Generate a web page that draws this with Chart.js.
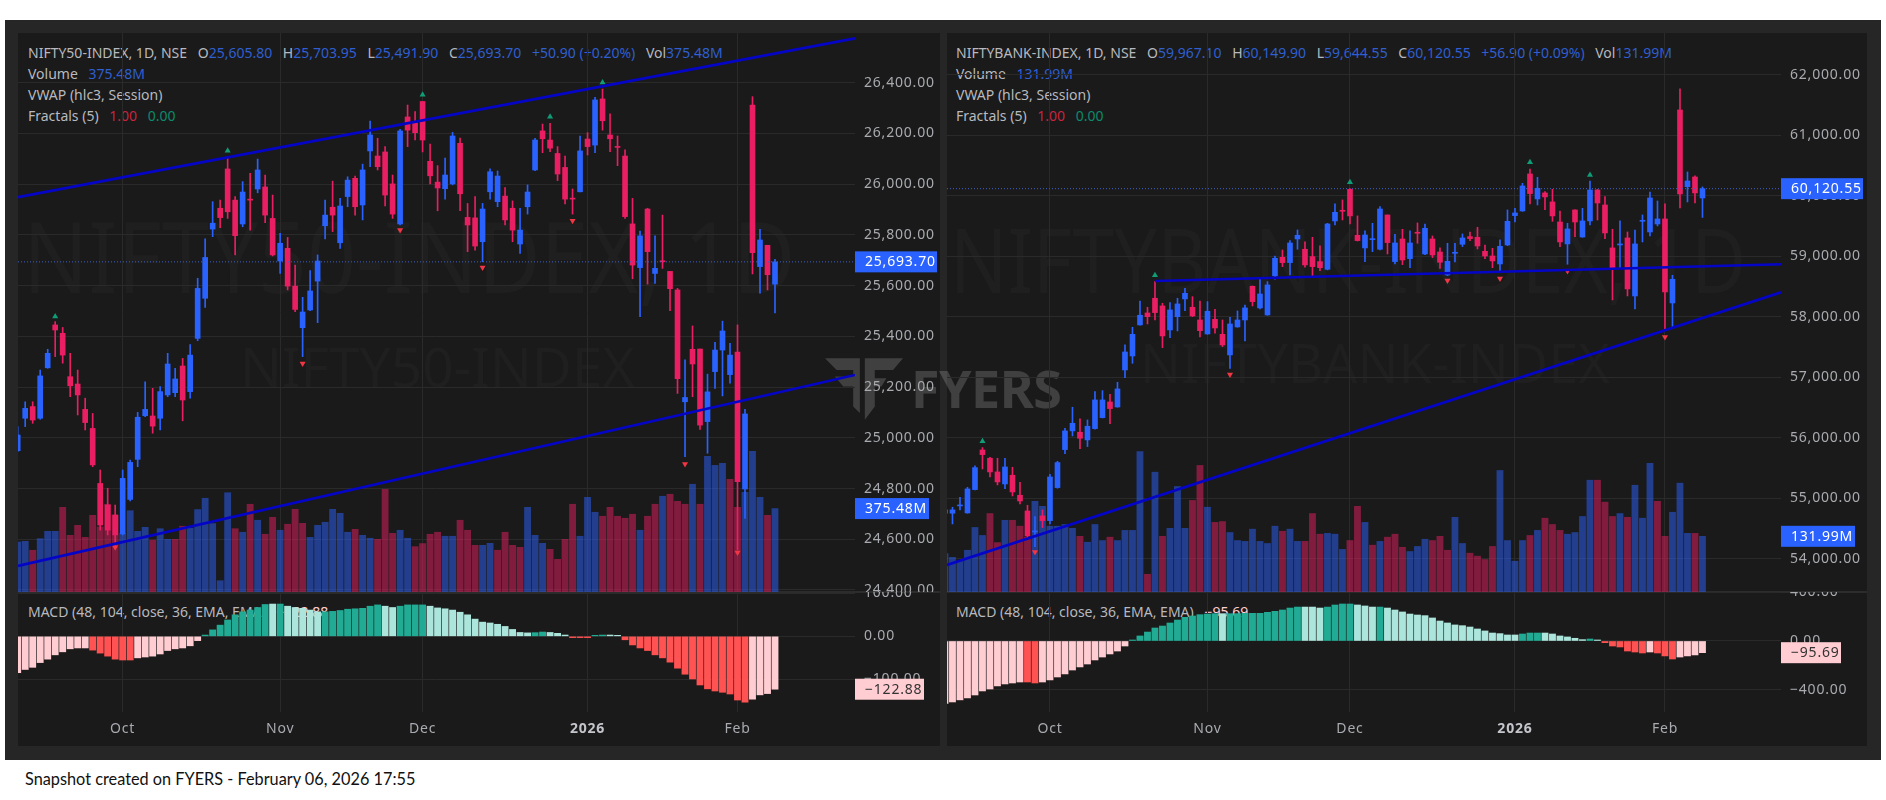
<!doctype html>
<html>
<head>
<meta charset="utf-8">
<script src="https://cdn.jsdelivr.net/npm/chart.js@4/dist/chart.umd.min.js"></script>
<style>
  html, body { margin:0; padding:0; background:#fff; width:1886px; height:800px; overflow:hidden; }
  body { position:relative; font-family:"Noto Sans", sans-serif; }
  #frame { position:absolute; left:5px; top:20px; width:1876px; height:740px; background:#262626; }
  .panel { position:absolute; top:33px; height:713px; background:#1a1a1a; overflow:hidden; }
  .panel .sep { position:absolute; left:0; right:0; top:558px; height:2px; background:#2c2c2c; }
  #panelL { left:18px; width:922px; }
  #panelR { left:947px; width:920px; }
  canvas { position:absolute; }
  .wm { position:absolute; color:#1f1f1f; white-space:nowrap; line-height:1; transform-origin:left top; }
  .legend { position:absolute; color:#b7b9bf; font-size:14px; line-height:21px; white-space:nowrap; }
  .legend b { font-weight:400; color:#2f5fd0; }
  .legend i { font-style:normal; margin-left:7px; }
  .legend .up { color:#0a8a6e; } .legend .dn { color:#c8243f; }
  #logoTxt { position:absolute; left:911px; top:352px; color:rgba(255,255,255,.17); font:700 52px "Noto Sans", sans-serif; letter-spacing:-.5px; }
  #snap { position:absolute; left:25px; top:769px; font:16.3px Lato, sans-serif; color:#111; }
</style>
</head>
<body>
<div id="frame"></div>
<div class="panel" id="panelL">
  <div class="wm" style="left:5px;top:173px;font-size:98px;transform:scaleX(.875);">NIFTY50-INDEX, 1D</div>
  <div class="wm" style="left:222px;top:305px;font-size:55px;">NIFTY50-INDEX</div>
  <div class="sep"></div>
</div>
<div class="panel" id="panelR">
  <div class="wm" style="left:3px;top:180px;font-size:90px;transform:scaleX(.84);">NIFTYBANK-INDEX, 1D</div>
  <div class="wm" style="left:193px;top:302px;font-size:54px;">NIFTYBANK-INDEX</div>
  <div class="sep"></div>
</div>
<svg style="position:absolute;left:825px;top:358px" width="78" height="62" viewBox="0 0 235 185"><path d="M0 0H105V165L85 145V85H55L30 55H85V35H35Z M120 0H235L205 35H150V60H185L170 85H150V145L120 185Z" fill="rgba(255,255,255,.17)"/></svg>
<div id="logoTxt">FYERS</div>

<div class="legend" style="left:28px;top:42px;" id="legL"></div>
<div class="legend" style="left:956px;top:42px;" id="legR"></div>
<div class="legend" style="left:28px;top:601px;" id="macdL"></div>
<div class="legend" style="left:956px;top:601px;" id="macdR"></div>

<canvas id="mainL"></canvas><canvas id="subL"></canvas>
<canvas id="mainR"></canvas><canvas id="subR"></canvas>
<div id="snap">Snapshot created on FYERS - February 06, 2026 17:55</div>

<script>
// ====== datos ======
const monthTicks = [14, 35, 54, 76, 96];
const monthLabels = ['Oct', 'Nov', 'Dec', '2026', 'Feb'];

const leftOpen = [24949,25077,25123,25077,25276,25445,25412,25241,25212,25112,
25037,24820,24735,24696,24621,24757,24915,25087,25086,25077,
25169,25178,25283,25182,25392,25550,25823,25905,26060,25937,
25843,25941,25981,25989,25865,25697,25747,25598,25434,25504,
25618,25836,25909,25769,25951,26023,25918,26131,26111,26127,
26001,25843,26265,26241,26326,26090,26008,25982,26001,26161,
25869,25867,25773,25970,25931,25953,25905,25764,25911,26056,
26210,26174,26121,26066,25945,25970,26178,26154,26336,26194,
26148,26111,25843,25671,25902,25648,25698,25656,25583,25142,
25349,25350,25064,25261,25346,25249,25338,24798,26312,25675,
25759,25605.80];
const leftClose = [25011,25116,25070,25244,25333,25425,25326,25205,25169,25060,
24893,24656,24636,24617,24840,24903,25081,25112,25046,25182,
25291,25232,25149,25326,25589,25711,25846,25868,25891,25797,
25969,25937,26056,25878,25721,25767,25598,25506,25496,25579,
25697,25878,25878,25914,26016,25911,26056,26194,26069,25957,
25882,26210,26213,26203,26174,26033,25985,26036,26190,25962,
25839,25756,25902,26049,26032,25859,25819,25819,25969,26174,
26179,26142,26040,25941,25941,26131,26148,26332,26250,26179,
26145,25872,25681,25796,25734,25668,25694,25588,25233,25159,
25291,25050,25181,25346,25421,25326,24827,25094,25730,25780,
25643,25693.70];
const leftHigh = [25044,25142,25142,25267,25349,25458,25435,25333,25267,25156,
25096,24873,24801,24735,24873,24912,25100,25221,25195,25202,
25333,25274,25313,25368,25629,25784,25931,25937,26108,25951,
26010,26043,26099,26036,25957,25806,25790,25681,25554,25659,
25721,25937,26012,25944,26029,26032,26079,26249,26181,26148,
26036,26216,26312,26286,26326,26158,26073,26103,26204,26182,
25924,25951,25924,26060,26052,25987,25934,25905,25997,26181,
26237,26240,26148,26111,25981,26190,26203,26342,26375,26277,
26190,26135,25944,25815,25905,25796,25878,25656,25589,25307,
25441,25350,25251,25376,25460,25372,25445,25112,26345,25822,
25759,25703.95];
const leftLow = [24945,25044,25057,25073,25274,25320,25294,25162,25090,25031,
24886,24636,24617,24571,24617,24751,24886,25083,25018,25031,
25162,25162,25067,25156,25383,25514,25793,25828,25865,25721,
25832,25819,25966,25848,25717,25648,25583,25497,25320,25501,
25454,25784,25813,25747,25911,25878,25859,26069,26056,25914,
25865,25839,26148,26174,26127,26001,25895,25941,25997,25895,
25734,25740,25694,25941,25911,25839,25773,25727,25882,26053,
26124,26128,26014,25922,25882,25969,26115,26124,26213,26128,
26073,25865,25627,25478,25606,25609,25668,25501,25175,24926,
25162,25033,24939,25195,25165,25215,24558,24682,25646,25570,
25583,25491.90];
const leftVol = [225,228,188,240,273,273,381,255,300,246,
345,293,395,345,263,366,273,291,233,285,
237,237,296,287,371,422,308,51,447,285,
269,395,323,260,336,278,305,372,309,246,
300,314,372,354,269,282,255,242,237,462,
264,278,242,204,218,260,269,251,251,323,
278,210,210,219,188,269,210,201,381,255,
219,192,147,237,395,251,426,359,341,381,
341,332,350,278,341,395,431,440,408,395,
485,395,611,570,579,507,381,449,633,426,
345,375.48];
const leftVolDir = 'bbrbbbrrrr' + 'rrrrbbbbrb' + 'brrbbbbbbr' + 'brbrrbrrrb' + 'bbbbbrbbrr' + 'rbbrrrrbbr' + 'rrbbrrrrbb' + 'brrrrbbbrr' + 'rrrbrrbrrr' + 'brbbbrrbbb' + 'rb';
const leftMacd = [-84.5,-77,-72,-61,-53,-43,-36,-29,-27,-27,
-32,-39,-46,-53,-55,-55,-50,-48,-46,-41,
-33,-29,-27,-22,-10,3,15,26,38,50,
57,61,67,74,75,75,70,67,65,61,
57,57,58,60,63,64,65,70,73,70,
67,70,73,73,73,70,66,64,61,56,
50,40,33,31,28,23,16,9,8,8.5,
10,9,7,3,-3,-3,-3,1.5,3,3,
1.5,-8,-20,-27,-33,-43,-50,-60,-74,-88,
-99,-113,-122,-127,-130,-134,-148,-153,-146,-136,
-133,-122.88];
const leftMacdKind = 'PPPPPPPPPP' + 'RRRRRRPPPP' + 'PPPPPTTTTT' + 'TTTTLTLLLL' + 'LTTTTTTTTL' + 'LTTTTLLLLL' + 'LLLLLLLLLT' + 'TLLLRRRTTL' + 'LRRRRRRRRR' + 'RRRRRRRRPP' + 'PP';
const leftUpIdx = [5, 28, 54, 71, 78];
const leftUpVal = [25478, 26132, 26353, 26266, 26401];
const leftDownIdx = [13, 38, 51, 62, 74, 89, 96];
const leftDownVal = [24568, 25293, 25819, 25671, 25856, 24897, 24548];
const leftTicks = [24400,24600,24800,25000,25200,25400,25600,25800,26000,26200,26400];
const leftMacdTicks = [-100, 0, 100];
const leftTrendA = [[0.04, 25949], [111.67, 26575]];
const leftTrendB = [[0.04, 24495], [111.67, 25248]];

const rightOpen = [54755,54755,54876,54760,55146,55801,55664,55438,55239,55383,
55052,54793,54446,54711,54633,55179,55807,56116,56094,55967,
56154,56336,56595,56512,57124,57355,57868,58066,58309,58182,
57785,58005,58298,58160,57950,57719,57961,57713,57372,57835,
57950,58507,58149,58033,58678,58986,58898,59289,59119,58997,
58915,58788,59587,59763,60110,59350,59141,59278,59119,59686,
58915,59289,58964,59400,59041,59289,59074,58694,59052,59201,
59328,59317,59085,59008,58876,59190,59675,59752,60364,59951,
60050,59901,59570,59207,59769,59322,59587,60099,59851,59141,
59190,59306,58347,59581,59405,59537,59620,58231,61422,60154,
60314,59967.10];
const rightClose = [54810,54810,54887,55157,55509,55724,55438,55273,55520,55107,
54958,54380,54463,54633,55355,55592,56116,56242,55994,56193,
56628,56628,56485,56810,57421,57713,58028,58005,58072,57686,
58116,58215,58391,58017,57774,58094,57818,57537,57884,57950,
58149,58253,58380,58529,58970,58898,59223,59350,58860,58832,
58815,59537,59730,59747,59670,59262,59355,59289,59785,59229,
59223,58942,59223,59383,59466,59025,58904,58920,59069,59306,
59295,59174,59008,58926,59168,59581,59719,60165,60039,60127,
59984,59670,59240,59455,59570,59587,60099,59884,59389,58793,
59207,58463,59207,59598,59967,59620,58413,58623,60033,60248,
60050,60120.55];
const rightHigh = [54854,54854,55019,55184,55537,55840,55680,55664,55664,55515,
55267,54887,54699,54810,55399,55614,56160,56507,56314,56297,
56766,56782,56722,56920,57537,57829,58264,58160,58584,58226,
58237,58309,58474,58336,58264,58253,58127,57950,57994,58099,
58198,58512,58623,58584,59008,59107,59262,59438,59240,59317,
59174,59548,59868,59934,60121,59670,59422,59548,59824,59686,
59366,59449,59422,59554,59537,59339,59141,59218,59218,59372,
59405,59482,59190,59135,59273,59769,59796,60209,60446,60309,
60072,60110,59752,59548,59769,59796,60248,60110,59989,59449,
59587,59405,59438,59686,60066,59917,59868,58689,61769,60397,
60331,60149.90];
const rightLow = [54578,54578,54810,54755,55140,55487,55355,55223,55162,55041,
54909,54341,54204,54518,54578,55168,55741,56033,55824,55857,
56143,56330,56237,56507,56997,57234,57862,57884,57950,57493,
57658,57769,58105,58005,57669,57713,57730,57510,57151,57829,
57603,58182,58132,58028,58623,58832,58694,59119,58821,58667,
58766,58777,59521,59603,59537,59256,58915,59080,59107,59041,
58876,58865,58815,59218,59030,58981,58804,58683,58909,59163,
59262,59124,58964,58815,58749,59179,59570,59747,59868,59851,
59774,59581,59163,58871,59328,59317,59521,59603,59295,58281,
58804,58347,58132,59240,59339,59504,57785,57829,59802,59901,
59884,59644.55];
const rightVol = [91,82,73,99,153,134,186,117,170,170,
156,130,215,203,156,156,160,151,132,118,
160,122,130,122,146,146,333,42,284,132,
151,250,151,217,300,201,165,167,141,122,
120,149,120,115,156,144,149,120,120,186,
137,139,137,101,122,203,165,111,120,130,
137,106,96,108,125,122,132,99,177,115,
92,85,77,108,288,122,73,122,134,146,
175,160,146,137,141,179,265,265,213,179,
186,177,253,175,305,215,132,189,258,139,
139,131.99];
const rightVolDir = 'bbbbbbrrbr' + 'rrbbbbbbrb' + 'bbrbbbbrbr' + 'bbbrrbrrbb' + 'bbbbbrbbrr' + 'rbbbrrbrbr' + 'rrbbbrrrbb' + 'rrrrbbbbrb' + 'rrrbbbbrrr' + 'brbbbrrbbb' + 'rb';
const rightMacd = [-509,-498,-481,-465,-441,-408,-392,-367,-351,-343,
-335,-335,-343,-335,-318,-294,-269,-237,-212,-188,
-155,-131,-106,-82,-41,3,41,73,106,122,
147,171,193,204,215,220,223,223,223,223,
226,226,226,234,242,253,269,277,277,277,
269,277,294,302,302,294,286,277,277,269,
253,237,220,212,207,188,163,147,131,125,
114,98,82,65,60,49,49,57,65,65,
65,57,41,33,22,11,16,8,-14,-41,
-49,-82,-90,-98,-90,-98,-122,-147,-131,-122,
-114,-95.69];
const rightMacdKind = 'PPPPPPPPPP' + 'PRRPPPPPPP' + 'PPPPPTTTTT' + 'TTTTTTTLTT' + 'TTTTTTTTLL' + 'LTTTTLLLTL' + 'LLLLLLLLLL' + 'LLLLLLLTTT' + 'LLLLLLTLRR' + 'RRRRPRRRPP' + 'PP';
const rightUpIdx = [5, 28, 54, 78, 86];
const rightUpVal = [55945, 58689, 60226, 60557, 60347];
const rightDownIdx = [12, 38, 67, 74, 83, 96];
const rightDownVal = [54115, 57047, 58601, 58634, 58760, 57669];
const rightTicks = [54000,55000,56000,57000,58000,59000,60000,61000,62000];
const rightMacdTicks = [-400, 0, 400];
const rightTrendA = [[28, 58595], [111.47, 58871]];
const rightTrendB = [[0.27, 53901], [111.47, 58408]];

// --- colores ---
const BLUE = '#2962ff', RED = '#e91e63', TXT = '#a9abb0', GRID = '#2a2a2a', TREND = '#0505c8';
const VOL_COL = { b:'rgba(41,98,255,.5)', r:'rgba(233,30,99,.5)' };
const MACD_COL = { P:'#ffcdd2', R:'#ff5252', T:'#22ab94', L:'#ace5dc' };
const FONT = { family:'"Noto Sans", sans-serif', size:14 };

const fmt = (v) => v.toLocaleString('en-US', { minimumFractionDigits:2, maximumFractionDigits:2 });

// etiqueta de precio sobre el eje derecho, colocada con la escala
const tagPlugin = {
  id:'tags',
  beforeDraw(chart){ chart.ctx.letterSpacing = '0.8px'; },
  afterDraw(chart, _a, opts){
    const ctx = chart.ctx, area = chart.chartArea;
    (opts.list || []).forEach(t => {
      const y = chart.scales[t.axis].getPixelForValue(t.value);
      ctx.save();
      ctx.fillStyle = t.bg;
      ctx.fillRect(area.right, y - 10.5, t.w, 21);
      ctx.fillStyle = t.fg;
      ctx.font = '14px "Noto Sans", sans-serif';
      ctx.textBaseline = 'middle';
      ctx.fillText(t.text, area.right + 10, y + 0.5);
      ctx.restore();
    });
  }
};

const xScale = (xMin, xMax, withLabels) => ({
  type:'linear', min:xMin, max:xMax, offset:false,
  afterBuildTicks:(s) => { s.ticks = monthTicks.map(v => ({ value:v })); },
  afterFit:(s) => { s.height = withLabels ? 34 : 0; s.paddingLeft = 0; s.paddingRight = 0; },
  grid:{ color:GRID, offset:false, drawTicks:false },
  border:{ display:false },
  ticks: withLabels ? {
    autoSkip:false, maxRotation:0, padding:9,
    color:(c) => monthLabels[c.index] === '2026' ? '#c4c6cb' : TXT,
    font:(c) => ({ ...FONT, weight: monthLabels[c.index] === '2026' ? 'bold' : 'normal' }),
    callback:(v) => monthLabels[monthTicks.indexOf(v)]
  } : { display:false }
});

const yScale = (min, max, ticks, axisW) => ({
  type:'linear', position:'right', min, max,
  afterBuildTicks:(s) => { s.ticks = ticks.map(v => ({ value:v })); },
  afterFit:(s) => { s.width = axisW; s.paddingTop = 0; s.paddingBottom = 0; },
  grid:{ color:GRID, drawTicks:false },
  border:{ display:false },
  ticks:{ color:TXT, font:FONT, padding:9, callback:(v) => fmt(v).replace('-', '\u2212') }
});

function mainChart(id, box, d){
  const el = document.getElementById(id);
  el.style.left = box.left + 'px'; el.style.top = box.top + 'px';
  el.style.width = box.w + 'px'; el.style.height = box.h + 'px';
  el.width = box.w; el.height = box.h;
  const lastVol = d.vol[d.vol.length - 1], lastClose = d.close[d.close.length - 1];
  const idx = d.close.map((_, i) => i);
  const candleCol = idx.map(i => d.close[i] >= d.open[i] ? BLUE : RED);
  new Chart(el, {
    type:'bar',
    data:{ datasets:[
      { type:'line', label:'trend1', data:d.trendA.map(p => ({ x:p[0], y:p[1] })), borderColor:TREND, borderWidth:2.6, pointRadius:0, order:1 },
      { type:'line', label:'trend2', data:d.trendB.map(p => ({ x:p[0], y:p[1] })), borderColor:TREND, borderWidth:2.6, pointRadius:0, order:1 },
      { type:'line', label:'last', data:[{ x:box.xMin, y:lastClose }, { x:box.xMax, y:lastClose }], borderColor:'#3f5fc4', borderWidth:1, borderDash:[1,2], pointRadius:0, order:2 },
      { type:'scatter', label:'up', data:d.upIdx.map((x, i) => ({ x, y:d.upVal[i] })), pointStyle:'triangle', pointRadius:3.5, backgroundColor:'#0f9d77', borderWidth:0, order:3 },
      { type:'scatter', label:'down', data:d.downIdx.map((x, i) => ({ x, y:d.downVal[i] })), pointStyle:'triangle', rotation:180, pointRadius:3.5, backgroundColor:'#f23645', borderWidth:0, order:3 },
      { label:'body', grouped:false, barThickness:5, minBarLength:1, data:idx.map(i => ({ x:i, y:[d.open[i], d.close[i]] })), backgroundColor:candleCol, order:4 },
      { label:'wick', grouped:false, barThickness:1, data:idx.map(i => ({ x:i, y:[d.low[i], d.high[i]] })), backgroundColor:candleCol, order:5 },
      { label:'volume', grouped:false, barThickness:6.2, yAxisID:'yVol', data:idx.map(i => ({ x:i, y:d.vol[i] })), backgroundColor:idx.map(i => VOL_COL[d.volDir[i]]), order:6 }
    ]},
    options:{
      responsive:false, animation:false, events:[],
      layout:{ padding:0, autoPadding:false },
      plugins:{ legend:{ display:false }, tooltip:{ enabled:false },
        tags:{ list:[
          { axis:'y', value:lastClose, text:fmt(lastClose), bg:BLUE, fg:'#fff', w:box.tagW },
          { axis:'yVol', value:lastVol, text:lastVol.toFixed(2) + 'M', bg:BLUE, fg:'#fff', w:box.tagW - 8 }
        ]}
      },
      scales:{
        x:xScale(box.xMin, box.xMax, false),
        y:yScale(box.yMin, box.yMax, d.ticks, box.axisW),
        yVol:{ type:'linear', display:false, min:0, max:box.volMax }
      }
    },
    plugins:[tagPlugin]
  });
}

function macdChart(id, box, d){
  const el = document.getElementById(id);
  el.style.left = box.left + 'px'; el.style.top = box.top + 'px';
  el.style.width = box.w + 'px'; el.style.height = box.h + 'px';
  el.width = box.w; el.height = box.h;
  const last = d.macd[d.macd.length - 1];
  new Chart(el, {
    type:'bar',
    data:{ datasets:[{
      label:'MACD', grouped:false, barThickness:6.2, minBarLength:1,
      data:d.macd.map((v, i) => ({ x:i, y:v })),
      backgroundColor:d.macd.map((_, i) => MACD_COL[d.kind[i]])
    }]},
    options:{
      responsive:false, animation:false, events:[],
      layout:{ padding:0, autoPadding:false },
      plugins:{ legend:{ display:false }, tooltip:{ enabled:false },
        tags:{ list:[{ axis:'y', value:last, text:fmt(last).replace('-', '\u2212'), bg:'#ffcdd2', fg:'#333', w:box.tagW }] }
      },
      scales:{
        x:xScale(box.xMin, box.xMax, true),
        y:yScale(box.yMin, box.yMax, d.ticks, box.axisW)
      }
    },
    plugins:[tagPlugin]
  });
}

mainChart('mainL', { left:18, top:33, w:922, h:559, axisW:85, xMin:0.04, xMax:111.67, yMin:24392, yMax:26596, volMax:2516, tagW:82 },
  { open:leftOpen, close:leftClose, high:leftHigh, low:leftLow, vol:leftVol, volDir:leftVolDir, ticks:leftTicks,
    upIdx:leftUpIdx, upVal:leftUpVal, downIdx:leftDownIdx, downVal:leftDownVal, trendA:leftTrendA, trendB:leftTrendB });
macdChart('subL', { left:18, top:592, w:922, h:154, axisW:85, xMin:0.04, xMax:111.67, yMin:-175.8, yMax:103, tagW:69 },
  { macd:leftMacd, kind:leftMacdKind, ticks:leftMacdTicks });

mainChart('mainR', { left:947, top:33, w:920, h:559, axisW:86, xMin:0.27, xMax:111.47, yMin:53453, yMax:62694, volMax:1325, tagW:82 },
  { open:rightOpen, close:rightClose, high:rightHigh, low:rightLow, vol:rightVol, volDir:rightVolDir, ticks:rightTicks,
    upIdx:rightUpIdx, upVal:rightUpVal, downIdx:rightDownIdx, downVal:rightDownVal, trendA:rightTrendA, trendB:rightTrendB });
macdChart('subR', { left:947, top:592, w:920, h:154, axisW:86, xMin:0.27, xMax:111.47, yMin:-580, yMax:400, tagW:60 },
  { macd:rightMacd, kind:rightMacdKind, ticks:rightMacdTicks });

// leyendas (texto real)
function legendHtml(sym, o, h, l, c, chg, vol){
  return `${sym}, 1D, NSE <i>O</i><b>${o}</b> <i>H</i><b>${h}</b> <i>L</i><b>${l}</b> <i>C</i><b>${c}</b> <i></i><b>${chg}</b> <i>Vol</i><b>${vol}</b><br>`
    + `Volume <i></i><b>${vol}</b><br>VWAP (hlc3, Session)<br>Fractals (5) <i></i><span class="dn">1.00</span> <i></i><span class="up">0.00</span>`;
}
document.getElementById('legL').innerHTML = legendHtml('NIFTY50-INDEX', '25,605.80', '25,703.95', '25,491.90', '25,693.70', '+50.90 (+0.20%)', '375.48M');
document.getElementById('legR').innerHTML = legendHtml('NIFTYBANK-INDEX', '59,967.10', '60,149.90', '59,644.55', '60,120.55', '+56.90 (+0.09%)', '131.99M');
document.getElementById('macdL').innerHTML = 'MACD (48, 104, close, 36, EMA, EMA) <i></i><span style="color:#ffcdd2">\u2212122.88</span>';
document.getElementById('macdR').innerHTML = 'MACD (48, 104, close, 36, EMA, EMA) <i></i><span style="color:#ffcdd2">\u221295.69</span>';
</script>
</body>
</html>
